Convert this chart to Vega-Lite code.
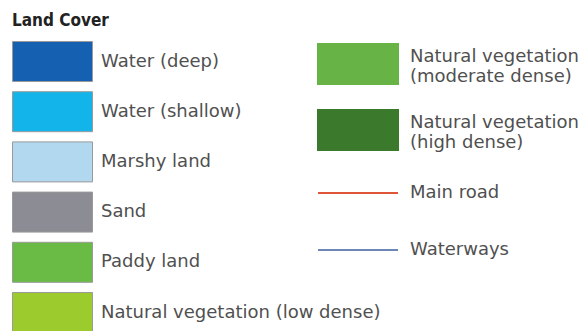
{
  "$schema": "https://vega.github.io/schema/vega-lite/v6.json",
  "width": 586,
  "height": 331,
  "autosize": {"type": "none"},
  "padding": 0,
  "background": "white",
  "config": {
    "view": {"stroke": null},
    "legend": {
      "orient": "none",
      "labelFont": "DejaVu Sans",
      "labelFontSize": 18,
      "labelColor": "#505050",
      "labelLimit": 400,
      "symbolSize": 1600,
      "padding": 0
    }
  },
  "layer": [
    {
      "data": {
        "values": [
          {"cover": "Water (deep)"},
          {"cover": "Water (shallow)"},
          {"cover": "Marshy land"},
          {"cover": "Sand"},
          {"cover": "Paddy land"},
          {"cover": "Natural vegetation (low dense)"}
        ]
      },
      "mark": {"type": "point", "filled": true, "size": 0, "opacity": 1},
      "encoding": {
        "color": {
          "field": "cover",
          "type": "nominal",
          "sort": null,
          "scale": {
            "domain": ["Water (deep)", "Water (shallow)", "Marshy land", "Sand", "Paddy land", "Natural vegetation (low dense)"],
            "range": ["#1560b0", "#12b4ea", "#b2d8f0", "#8c8c94", "#69bb46", "#9ccb2e"]
          },
          "legend": {
            "title": "Land Cover",
            "legendX": 12,
            "legendY": 13,
            "titleFont": "DejaVu Sans Condensed",
            "titleFontSize": 17,
            "titleFontWeight": "bold",
            "titleColor": "#222222",
            "titlePadding": 11,
            "symbolType": "M-1,-1H3V1H-1Z",
            "symbolStrokeColor": "#9a9a9a",
            "symbolStrokeWidth": 1,
            "symbolOpacity": 1,
            "rowPadding": 5.2,
            "labelOffset": 48
          }
        }
      }
    },
    {
      "data": {
        "values": [
          {"feature": "Natural vegetation (moderate dense)"},
          {"feature": "Natural vegetation (high dense)"},
          {"feature": "Main road"},
          {"feature": "Waterways"}
        ]
      },
      "mark": {"type": "point", "size": 0, "opacity": 1},
      "encoding": {
        "fill": {
          "field": "feature",
          "type": "nominal",
          "sort": null,
          "scale": {
            "domain": ["Natural vegetation (moderate dense)", "Natural vegetation (high dense)", "Main road", "Waterways"],
            "range": ["#67b346", "#3b7a2c", "transparent", "transparent"]
          },
          "legend": {
            "title": null,
            "legendX": 317,
            "legendY": 43,
            "symbolStrokeWidth": 2,
            "symbolOpacity": 1,
            "rowPadding": 18,
            "labelOffset": 51,
            "labelExpr": "indexof(datum.label, 'Natural vegetation ') == 0 ? ['Natural vegetation', substring(datum.label, 19)] : datum.label",
            "encode": {
              "labels": {
                "update": {
                  "dy": {"signal": "indexof(datum.label, 'Natural vegetation ') == 0 ? -7 : 0"}
                }
              }
            }
          }
        },
        "stroke": {
          "field": "feature",
          "type": "nominal",
          "sort": null,
          "scale": {
            "domain": ["Natural vegetation (moderate dense)", "Natural vegetation (high dense)", "Main road", "Waterways"],
            "range": ["#67b346", "#3b7a2c", "#e0553a", "#6b86b8"]
          },
          "legend": {"title": null}
        },
        "shape": {
          "field": "feature",
          "type": "nominal",
          "sort": null,
          "scale": {
            "domain": ["Natural vegetation (moderate dense)", "Natural vegetation (high dense)", "Main road", "Waterways"],
            "range": ["M-1,-1H3V1H-1Z", "M-1,-1H3V1H-1Z", "M-1,-0.7M-1,0H3M-1,0.7", "M-1,-0.7M-1,0H3M-1,0.7"]
          },
          "legend": {"title": null}
        }
      }
    }
  ]
}
